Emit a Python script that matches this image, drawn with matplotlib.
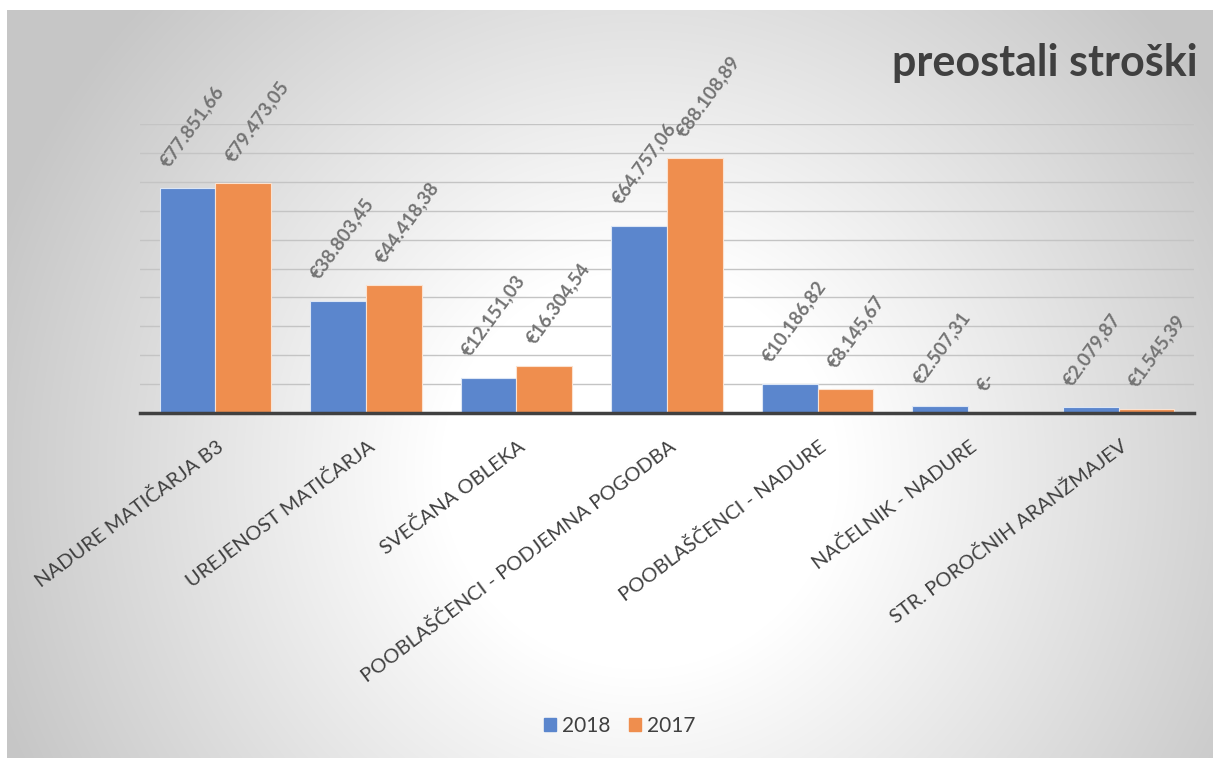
#!/usr/bin/env python

import numpy as np
import matplotlib
matplotlib.use('Agg')
import matplotlib.pyplot as plt
from matplotlib.patches import Patch

plt.rcParams['font.family'] = ['Lato', 'DejaVu Sans']

categories = ['NADURE MATIČARJA B3', 'UREJENOST MATIČARJA', 'SVEČANA OBLEKA',
              'POOBLAŠČENCI - PODJEMNA POGODBA', 'POOBLAŠČENCI - NADURE',
              'NAČELNIK - NADURE', 'STR. POROČNIH ARANŽMAJEV']
vals_2018 = [77851.66, 38803.45, 12151.03, 64757.06, 10186.82, 2507.31, 2079.87]
vals_2017 = [79473.05, 44418.38, 16304.54, 88108.89, 8145.67, 0.0, 1545.39]
series = ['2018', '2017']

c18 = '#5b86cd'
c17 = '#ef8e4e'
txt = '#404040'
lbl = '#747474'

def euro(v):
    if v == 0:
        return '€-'
    s = '{:,.2f}'.format(v)
    return '€' + s.replace(',', 'X').replace('.', ',').replace('X', '.')

W, H = 1213, 758
fig = plt.figure(figsize=(W / 100, H / 100), dpi=100)

# radial grey -> white background of the chart area
bg = fig.add_axes([7 / W, 0, 1 - 7 / W, 1 - 10 / H])
yy, xx = np.mgrid[10:H, 7:W]
d = np.sqrt((xx - 640.0) ** 2 + (yy - 470.0) ** 2)
v = 1 - 0.22 * np.clip((d - 200) / 480, 0, 1)
bg.imshow(np.dstack([v, v, v]), aspect='auto', extent=[0, 1, 0, 1])
bg.axis('off')

ax = fig.add_axes([140 / W, (H - 413) / H, (1194 - 140) / W, (413 - 124) / H])
ax.patch.set_alpha(0)
x = np.arange(len(categories))
w = 0.37
b1 = ax.bar(x - w / 2, vals_2018, w, color=c18, edgecolor='#dce6f5', linewidth=0.8, zorder=3)
b2 = ax.bar(x + w / 2, vals_2017, w, color=c17, edgecolor='#fbe2d0', linewidth=0.8, zorder=3)

# value labels above the bars
for bars, vals, dx in ((b1, vals_2018, -19), (b2, vals_2017, -10)):
    for r, val in zip(bars, vals):
        ax.annotate(euro(val), (r.get_x() + r.get_width() / 2, val),
                    xytext=(dx, 20), textcoords='offset pixels',
                    rotation=54, rotation_mode='anchor', ha='left', va='baseline',
                    fontsize=13.5, fontweight='bold', color=lbl, clip_on=False,
                    annotation_clip=False)

ax.set_xlim(-0.5, len(categories) - 0.5)
ax.set_ylim(0, 100000)
ax.set_yticks(np.arange(10000, 100001, 10000))
ax.yaxis.grid(True, color='#c4c4c4', linewidth=1, zorder=0)
ax.tick_params(left=False, labelleft=False, bottom=False, labelbottom=False)
for s in ['left', 'right', 'top']:
    ax.spines[s].set_visible(False)
ax.spines['bottom'].set_color('#404040')
ax.spines['bottom'].set_linewidth(2.5)
ax.spines['bottom'].set_zorder(4)

# category labels
for xi, cat in zip(x, categories):
    ax.annotate(cat, (xi, 0), xycoords=('data', 'axes fraction'),
                xytext=(1, -24), textcoords='offset pixels',
                rotation=37, rotation_mode='anchor', ha='right', va='top',
                fontsize=14.5, color=txt, annotation_clip=False)

fig.text(1198 / W, 1 - 63 / H, 'preostali stroški', ha='right', va='center',
         fontsize=31, fontweight='bold', color=txt)

handles = [Patch(color=c18), Patch(color=c17)]
fig.legend(handles, series, loc='center', bbox_to_anchor=(620 / W, 1 - 726 / H), ncol=2,
           frameon=False, fontsize=15, handlelength=0.55, handleheight=0.55,
           handletextpad=0.3, columnspacing=0.9, labelcolor=txt)

fig.savefig('out.png', dpi=100, facecolor='white')
